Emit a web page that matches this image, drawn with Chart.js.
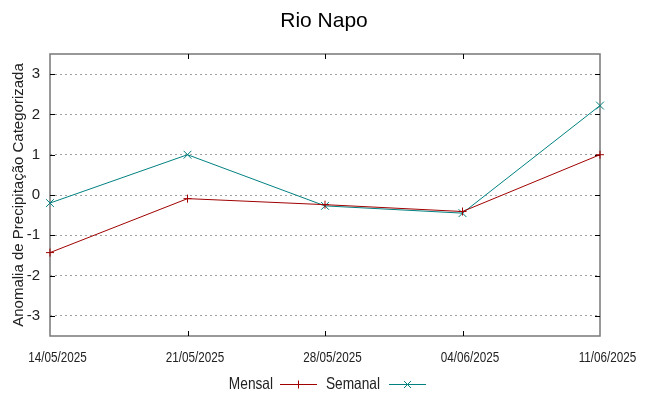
<!DOCTYPE html>
<html>
<head>
<meta charset="utf-8">
<title>Rio Napo</title>
<script src="https://cdn.jsdelivr.net/npm/chart.js@4.4.1/dist/chart.umd.min.js"></script>
<style>
    body { margin: 0; background: #fff; }
    #wrap { width: 648px; height: 396px; position: relative; }
</style>
</head>
<body>
<div id="wrap"><canvas id="chartMain"></canvas></div>
<script>
// ========== DATA ==========
const datas = ['14/05/2025', '21/05/2025', '28/05/2025', '04/06/2025', '11/06/2025'];
const mensal = [-1.43, -0.09, -0.24, -0.41, 1.0];
const semanal = [-0.2, 1.0, -0.27, -0.45, 2.22];
const yTicks = [-3, -2, -1, 0, 1, 2, 3];

const COR_MENSAL = '#a00000';
const COR_SEMANAL = '#008080';
const SANS = "'Liberation Sans', Arial, sans-serif";

// texto "estreito": Liberation Sans comprimido na horizontal
function narrowText(ctx, text, x, y, size, squeeze, align) {
    ctx.save();
    ctx.font = size + 'px ' + SANS;
    ctx.textBaseline = 'alphabetic';
    ctx.textAlign = align;
    ctx.translate(x, y);
    ctx.scale(squeeze, 1);
    ctx.fillText(text, 0, 0);
    ctx.restore();
}

// moldura, marcas internas, titulo, rotulos x e legenda no estilo gnuplot
const gnuplotFrame = {
    id: 'gnuplotFrame',
    beforeDatasetsDraw(chart) {
        const { ctx, chartArea: a, scales } = chart;
        ctx.save();
        ctx.strokeStyle = '#777';
        ctx.lineWidth = 1.5;
        ctx.strokeRect(a.left, a.top, a.right - a.left, a.bottom - a.top);

        ctx.strokeStyle = '#000';
        ctx.lineWidth = 1;
        ctx.beginPath();
        yTicks.forEach(v => {
            const y = Math.round(scales.y.getPixelForValue(v)) + 0.5;
            ctx.moveTo(a.left, y); ctx.lineTo(a.left + 5, y);
            ctx.moveTo(a.right, y); ctx.lineTo(a.right - 5, y);
        });
        datas.forEach((d, i) => {
            if (i === 0 || i === datas.length - 1) return;
            const x = Math.round(scales.x.getPixelForValue(i)) + 0.5;
            ctx.moveTo(x, a.bottom); ctx.lineTo(x, a.bottom - 5);
            ctx.moveTo(x, a.top); ctx.lineTo(x, a.top + 5);
        });
        ctx.stroke();
        ctx.restore();
    },
    afterDraw(chart) {
        const { ctx, scales } = chart;

        // titulo
        ctx.save();
        ctx.fillStyle = '#000';
        ctx.font = '21px ' + SANS;
        ctx.textAlign = 'center';
        ctx.textBaseline = 'alphabetic';
        ctx.fillText('Rio Napo', chart.width / 2, 26.5);
        ctx.restore();

        // rotulos do eixo x
        ctx.fillStyle = '#222';
        datas.forEach((d, i) => {
            const x = scales.x.getPixelForValue(i) + 7.5;
            narrowText(ctx, d, x, 361.7, 15, 0.78, 'center');
        });

        // legenda
        const items = [
            { label: 'Mensal', color: COR_MENSAL, textRight: 273, x0: 280, x1: 317, mark: '+' },
            { label: 'Semanal', color: COR_SEMANAL, textRight: 380, x0: 389, x1: 426, mark: 'x' }
        ];
        items.forEach(it => {
            ctx.fillStyle = '#222';
            narrowText(ctx, it.label, it.textRight, 388.5, 16.5, 0.83, 'right');
            const y = 384.5;
            const cx = (it.x0 + it.x1) / 2;
            ctx.save();
            ctx.strokeStyle = it.color;
            ctx.lineWidth = 1;
            ctx.beginPath();
            ctx.moveTo(it.x0, y); ctx.lineTo(it.x1, y);
            if (it.mark === '+') {
                ctx.moveTo(cx, y - 4); ctx.lineTo(cx, y + 4);
            } else {
                ctx.moveTo(cx - 3.5, y - 3.5); ctx.lineTo(cx + 3.5, y + 3.5);
                ctx.moveTo(cx - 3.5, y + 3.5); ctx.lineTo(cx + 3.5, y - 3.5);
            }
            ctx.stroke();
            ctx.restore();
        });
    }
};

const ctx = document.getElementById('chartMain').getContext('2d');
new Chart(ctx, {
    type: 'line',
    data: {
        labels: datas,
        datasets: [
            {
                label: 'Mensal',
                data: mensal,
                borderColor: COR_MENSAL,
                backgroundColor: COR_MENSAL,
                borderWidth: 1,
                pointStyle: 'cross',
                pointRadius: 4,
                pointBorderWidth: 1,
                tension: 0,
                clip: false
            },
            {
                label: 'Semanal',
                data: semanal,
                borderColor: COR_SEMANAL,
                backgroundColor: COR_SEMANAL,
                borderWidth: 1,
                pointStyle: 'crossRot',
                pointRadius: 5.5,
                pointBorderWidth: 1,
                tension: 0,
                clip: false
            }
        ]
    },
    options: {
        responsive: true,
        maintainAspectRatio: false,
        animation: false,
        layout: { padding: { left: 0, right: 48, top: 54, bottom: 30 } },
        plugins: {
            legend: { display: false },
            tooltip: { enabled: false },
            title: { display: false }
        },
        scales: {
            x: {
                offset: false,
                grid: { display: false, drawTicks: false },
                border: { display: false },
                ticks: { display: false, autoSkip: false, maxRotation: 0 },
                afterFit(scale) { scale.height = 30; }
            },
            y: {
                min: -3.5,
                max: 3.5,
                afterBuildTicks(scale) {
                    scale.ticks = yTicks.map(v => ({ value: v }));
                },
                grid: {
                    color: '#a0a0a0',
                    lineWidth: 1,
                    drawTicks: false
                },
                border: { display: false, dash: [2, 3] },
                ticks: {
                    padding: 10,
                    color: '#222',
                    font: { family: SANS, size: 15 }
                },
                title: {
                    display: true,
                    text: 'Anomalia de Precipitação Categorizada',
                    color: '#222',
                    font: { family: SANS, size: 15 },
                    padding: { top: 10, bottom: 0 }
                },
                afterFit(scale) { scale.width = 50; }
            }
        }
    },
    plugins: [gnuplotFrame]
});
</script>
</body>
</html>
